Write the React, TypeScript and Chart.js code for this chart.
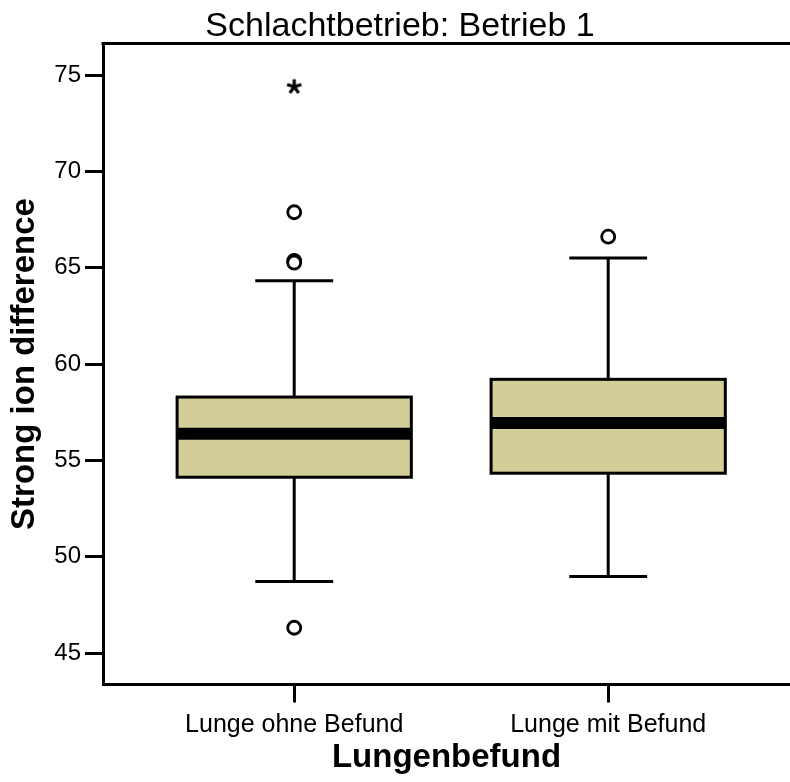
import React, { useEffect, useRef } from 'react';
import { Chart, registerables } from 'chart.js';

Chart.register(...registerables);

// Grouping variable and five-number summaries per group
const categories = ['Lunge ohne Befund', 'Lunge mit Befund'];
const whiskerLow = [48.72, 48.98];
const quartile1 = [54.13, 54.34];
const medians = [56.39, 56.94];
const quartile3 = [58.29, 59.21];
const whiskerHigh = [64.32, 65.5];

// Individual points beyond the whiskers
const outliersOhne = [67.88, 65.36, 65.27, 46.32];
const outliersMit = [66.61];
const extremesOhne = [74.39];

const yTicks = [45, 50, 55, 60, 65, 70, 75];

const titleText = 'Schlachtbetrieb: Betrieb 1';
const yTitle = 'Strong ion difference';
const xTitle = 'Lungenbefund';

const FONT = '"Liberation Sans", Arial, Helvetica, sans-serif';
const BOX_FILL = '#d3ce97';
const BOX_HALF = 0.373;
const CAP_HALF = 0.124;

function makeAsterisk(): HTMLCanvasElement {
  const c = document.createElement('canvas');
  c.width = 20;
  c.height = 20;
  const g = c.getContext('2d')!;
  g.strokeStyle = '#000';
  g.lineWidth = 3.2;
  g.lineCap = 'butt';
  const r = 7.5;
  g.beginPath();
  for (let k = 0; k < 5; k++) {
    const a = -Math.PI / 2 + (k * 2 * Math.PI) / 5;
    g.moveTo(10, 10);
    g.lineTo(10 + r * Math.cos(a), 10 + r * Math.sin(a));
  }
  g.stroke();
  return c;
}

const boxPlugin = {
  id: 'boxes',
  beforeDatasetsDraw(chart: any) {
    const { ctx, scales } = chart;
    const x = scales.x;
    const y = scales.y;
    categories.forEach((_, i) => {
      const pos = i + 1;
      const cx = x.getPixelForValue(pos);
      const left = x.getPixelForValue(pos - BOX_HALF);
      const right = x.getPixelForValue(pos + BOX_HALF);
      const capL = x.getPixelForValue(pos - CAP_HALF);
      const capR = x.getPixelForValue(pos + CAP_HALF);
      const yLo = y.getPixelForValue(whiskerLow[i]);
      const yQ1 = y.getPixelForValue(quartile1[i]);
      const yMed = y.getPixelForValue(medians[i]);
      const yQ3 = y.getPixelForValue(quartile3[i]);
      const yHi = y.getPixelForValue(whiskerHigh[i]);
      ctx.save();
      ctx.strokeStyle = '#000';
      ctx.lineWidth = 3;
      ctx.beginPath();
      ctx.moveTo(cx, yQ1);
      ctx.lineTo(cx, yLo);
      ctx.moveTo(cx, yQ3);
      ctx.lineTo(cx, yHi);
      ctx.moveTo(capL, yLo);
      ctx.lineTo(capR, yLo);
      ctx.moveTo(capL, yHi);
      ctx.lineTo(capR, yHi);
      ctx.stroke();
      ctx.fillStyle = BOX_FILL;
      ctx.fillRect(left, yQ3, right - left, yQ1 - yQ3);
      ctx.strokeRect(left, yQ3, right - left, yQ1 - yQ3);
      ctx.lineWidth = 12;
      ctx.beginPath();
      ctx.moveTo(left, yMed);
      ctx.lineTo(right, yMed);
      ctx.stroke();
      ctx.restore();
    });
  },
};

const framePlugin = {
  id: 'frame',
  afterDraw(chart: any) {
    const { ctx, chartArea, width } = chart;
    ctx.save();
    ctx.strokeStyle = '#000';
    ctx.lineWidth = 3;
    ctx.beginPath();
    ctx.moveTo(chartArea.left - 1.5, chartArea.top);
    ctx.lineTo(chartArea.right, chartArea.top);
    ctx.stroke();
    ctx.fillStyle = '#000';
    ctx.font = `34px ${FONT}`;
    ctx.textAlign = 'center';
    ctx.textBaseline = 'alphabetic';
    ctx.fillText(titleText, width / 2 + 5, 36);
    ctx.restore();
  },
};

export default function App() {
  const ref = useRef<HTMLCanvasElement | null>(null);

  useEffect(() => {
    if (!ref.current) return;
    const star = makeAsterisk();
    const chart = new Chart(ref.current, {
      type: 'scatter',
      data: {
        datasets: [
          {
            label: 'Ausreißer',
            data: [
              ...outliersOhne.map((v) => ({ x: 1, y: v })),
              ...outliersMit.map((v) => ({ x: 2, y: v })),
            ],
            pointStyle: 'circle',
            pointRadius: 6.5,
            pointHoverRadius: 6.5,
            pointBackgroundColor: '#ffffff',
            pointBorderColor: '#000000',
            pointBorderWidth: 2.8,
          },
          {
            label: 'Extremwerte',
            data: extremesOhne.map((v) => ({ x: 1, y: v })),
            pointStyle: star as any,
            pointRadius: 8,
          },
        ],
      },
      options: {
        responsive: false,
        animation: false,
        events: [],
        layout: { autoPadding: false, padding: { top: 43.5, left: 0, right: 0, bottom: 0 } },
        plugins: {
          legend: { display: false },
          tooltip: { enabled: false },
          title: { display: false },
        },
        scales: {
          x: {
            type: 'linear',
            min: 0.391,
            max: 2.579,
            afterFit: (s: any) => {
              s.height = 97.5;
            },
            afterBuildTicks: (s: any) => {
              s.ticks = categories.map((_, i) => ({ value: i + 1 }));
            },
            ticks: {
              color: '#000',
              font: { family: FONT, size: 25 },
              padding: 8,
              maxRotation: 0,
              autoSkip: false,
              callback: (v: any) => categories[Math.round(Number(v)) - 1] ?? '',
            },
            grid: {
              drawOnChartArea: false,
              drawTicks: true,
              tickLength: 18,
              tickWidth: 3,
              tickColor: '#000',
            },
            border: { display: true, color: '#000', width: 3 },
            title: {
              display: true,
              text: xTitle,
              color: '#000',
              font: { family: FONT, size: 33, weight: 'bold' },
              padding: { top: 0, bottom: 4 },
            },
          },
          y: {
            type: 'linear',
            min: 43.375,
            max: 76.636,
            afterFit: (s: any) => {
              s.width = 103;
            },
            afterBuildTicks: (s: any) => {
              s.ticks = yTicks.map((v) => ({ value: v }));
            },
            ticks: {
              color: '#000',
              font: { family: FONT, size: 24 },
              padding: 4,
              callback: (v: any) => String(v),
            },
            grid: {
              drawOnChartArea: false,
              drawTicks: true,
              tickLength: 18,
              tickWidth: 3,
              tickColor: '#000',
            },
            border: { display: true, color: '#000', width: 3 },
            title: {
              display: true,
              text: yTitle,
              color: '#000',
              font: { family: FONT, size: 33, weight: 'bold' },
              padding: { top: 5, bottom: 0 },
            },
          },
        },
      },
      plugins: [boxPlugin, framePlugin],
    });
    return () => chart.destroy();
  }, []);

  return (
    <div style={{ position: 'absolute', left: 0, top: 0, width: 790, height: 782, background: '#fff' }}>
      <canvas ref={ref} width={790} height={782} />
    </div>
  );
}
